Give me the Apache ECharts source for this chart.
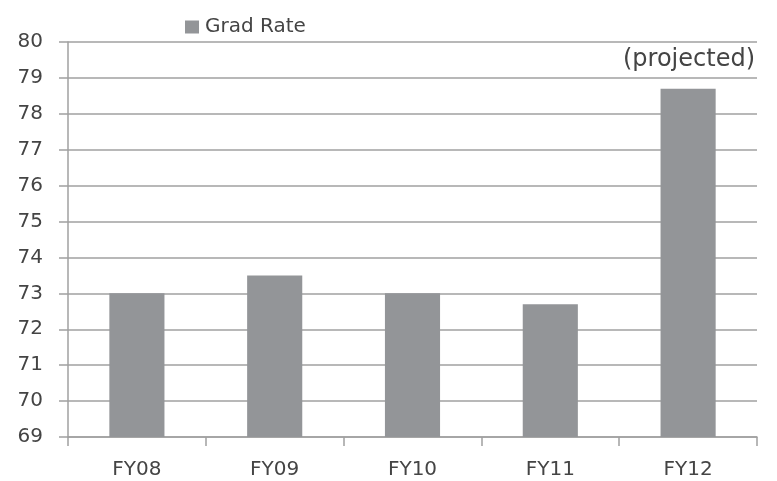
<!DOCTYPE html>
<html><head><meta charset="utf-8">
<script src="https://cdn.jsdelivr.net/npm/echarts@6/dist/echarts.min.js"></script>
<style>html,body{margin:0;padding:0;background:#fff}#c{width:777px;height:481px}</style>
</head><body><div id="c"></div>
<script>
const categories = ['FY08','FY09','FY10','FY11','FY12'];
const gradRate = [73.0, 73.5, 73.0, 72.7, 78.7];
const seriesName = 'Grad Rate';
const note = '(projected)';
const FONT = '"DejaVu Sans", sans-serif';
const chart = echarts.init(document.getElementById('c'));
chart.setOption({
  animation: false,
  backgroundColor: '#fff',
  textStyle: {fontFamily: FONT},
  grid: {left: 68, right: 20, top: 42, bottom: 44},
  legend: {
    left: 185, top: 17, itemWidth: 14, itemHeight: 13, itemGap: 8,
    icon: 'rect', padding: 0,
    textStyle: {fontSize: 20, color: '#444', fontFamily: FONT, padding: [0,0,0,1]},
    data: [seriesName]
  },
  graphic: [{
    type: 'text', right: 22, top: 48,
    style: {text: note, fontSize: 24, fill: '#444', fontFamily: FONT}
  }],
  xAxis: {
    type: 'category', data: categories,
    axisLine: {lineStyle: {color: '#a0a0a0', width: 1.5}},
    axisTick: {show: true, length: 9, lineStyle: {color: '#a0a0a0', width: 1.5}},
    axisLabel: {fontSize: 20, color: '#444', margin: 23, fontFamily: FONT}
  },
  yAxis: {
    type: 'value', min: 69, max: 80, interval: 1,
    axisLine: {show: true, lineStyle: {color: '#a0a0a0', width: 1.5}},
    axisTick: {show: true, length: 9, lineStyle: {color: '#a0a0a0', width: 1.5}},
    splitLine: {lineStyle: {color: '#a0a0a0', width: 1.5}},
    axisLabel: {fontSize: 20, color: '#444', margin: 25, fontFamily: FONT}
  },
  series: [{
    name: seriesName, type: 'bar', data: gradRate,
    barWidth: '40%',
    itemStyle: {color: '#939598'}
  }]
});
</script></body></html>
